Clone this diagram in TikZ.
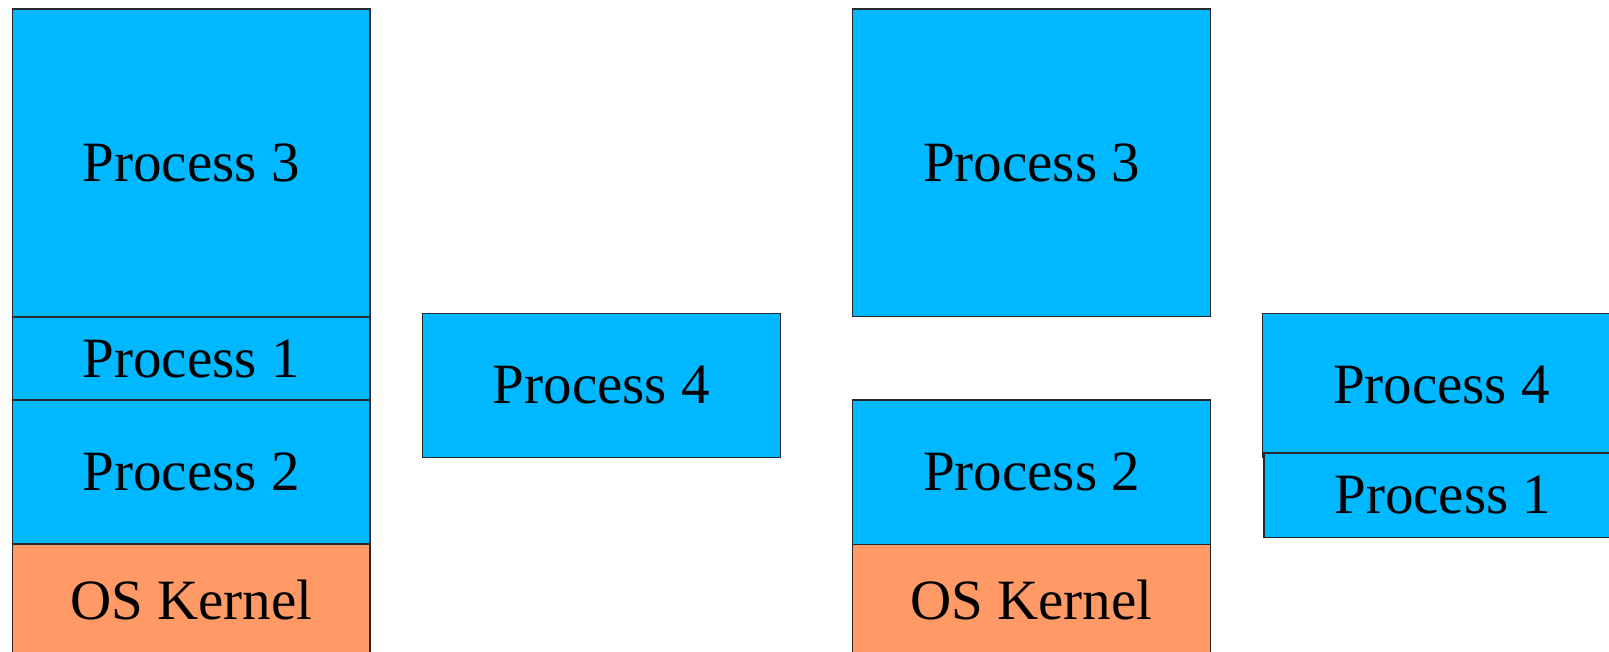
\documentclass[tikz,border=0pt]{standalone}
\usepackage{fontspec}
\setmainfont{Liberation Serif}
\definecolor{procblue}{RGB}{0,184,255}
\definecolor{kernelorange}{RGB}{255,153,102}
\definecolor{edgegray}{RGB}{40,40,40}
\tikzset{
  membox/.style={draw=edgegray, line width=1.1pt, inner sep=0pt, outer sep=0pt,
    font=\fontsize{57}{60}\selectfont, anchor=north west},
  proc/.style={membox, fill=procblue},
  kern/.style={membox, fill=kernelorange},
}
\begin{document}
\begin{tikzpicture}[x=1pt,y=-1pt]
\clip (0,0) rectangle (1609,651);
\fill[white] (0,0) rectangle (1609,651);
% left column
\node[proc, minimum width=357.7pt, minimum height=308pt] (l3) at (12.3,9) {Process 3};
\node[proc, minimum width=357.7pt, minimum height=83pt] (l1) at (12.3,317) {Process 1};
\node[proc, minimum width=357.7pt, minimum height=144pt] (l2) at (12.3,400) {Process 2};
\node[kern, minimum width=357.7pt, minimum height=112pt] (lk) at (12.3,544) {OS Kernel};
% middle waiting process
\node[proc, minimum width=358pt, minimum height=144.4pt] (m4) at (422.3,313.3) {Process 4};
% right column
\node[proc, minimum width=358.4pt, minimum height=307.7pt] (r3) at (852.3,9) {Process 3};
\node[proc, minimum width=358.4pt, minimum height=144.3pt] (r2) at (852.3,400) {Process 2};
\node[kern, minimum width=358.4pt, minimum height=112pt] (rk) at (852.3,544.3) {OS Kernel};
% right waiting processes
\node[proc, minimum width=357.5pt, minimum height=144.4pt] (w4) at (1262.7,313.3) {Process 4};
\node[proc, minimum width=357.7pt, minimum height=84.7pt] (w1) at (1264,453) {Process 1};
\end{tikzpicture}
\end{document}
